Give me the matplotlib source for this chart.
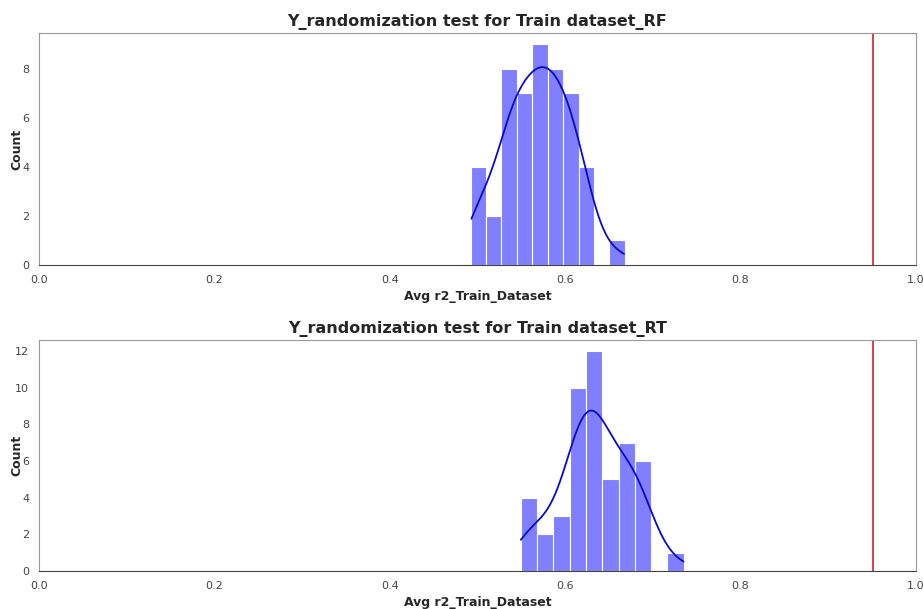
import numpy as np
import matplotlib
matplotlib.use("Agg")
import matplotlib.pyplot as plt
import seaborn as sns

# histogram bins (50 permutations each)
rf_edges = [0.4922, 0.5098, 0.5273, 0.5449, 0.5625, 0.5800, 0.5976, 0.6152, 0.6327, 0.6503, 0.6679]
rf_counts = [4, 2, 8, 7, 9, 8, 7, 4, 0, 1]
rt_edges = [0.5493, 0.5679, 0.5865, 0.6051, 0.6237, 0.6422, 0.6608, 0.6794, 0.6980, 0.7165, 0.7351]
rt_counts = [4, 2, 3, 10, 12, 5, 7, 6, 0, 1]

# r2 of the real (non-randomized) model
rf_r2 = 0.951
rt_r2 = 0.951

sns.set_style("white")
plt.rcParams['font.family'] = ['DejaVu Sans']

fig = plt.figure(figsize=(9.23, 6.09), dpi=100)
ax1 = fig.add_axes([0.0423, 0.5649, 0.9501, 0.3809])
ax2 = fig.add_axes([0.0423, 0.0624, 0.9501, 0.3793])

panels = [(ax1, rf_edges, rf_counts, rf_r2, "RF", 1.05),
          (ax2, rt_edges, rt_counts, rt_r2, "RT", 1.15)]

for ax, edges, counts, r2, name, bw in panels:
    centers = [(a + b) / 2 for a, b in zip(edges[:-1], edges[1:])]
    vals = np.repeat(centers, counts)
    sns.histplot(x=vals, bins=list(edges), kde=True, color="blue",
                 alpha=0.5, edgecolor="white", linewidth=0.8, ax=ax,
                 kde_kws={"cut": 0.45, "bw_adjust": bw}, line_kws={"linewidth": 1.3})
    ax.lines[0].set_color("#0a0ac8")
    ax.axvline(r2, color="#c44e52", linewidth=1.5)
    ax.set_xlim(0, 1)
    ax.set_title("Y_randomization test for Train dataset_" + name,
                 fontsize=11.5, fontweight="bold", pad=5)
    ax.set_xlabel("Avg r2_Train_Dataset", fontsize=9, fontweight="bold")
    ax.set_ylabel("Count", fontsize=9, fontweight="bold")
    ax.yaxis.set_label_coords(-0.018, 0.5)
    ax.tick_params(labelsize=8, colors="#444444")
    for s in ax.spines.values():
        s.set_color("#999999")
    ax.spines["bottom"].set_color("#444444")

fig.savefig("out.png", dpi=100)
